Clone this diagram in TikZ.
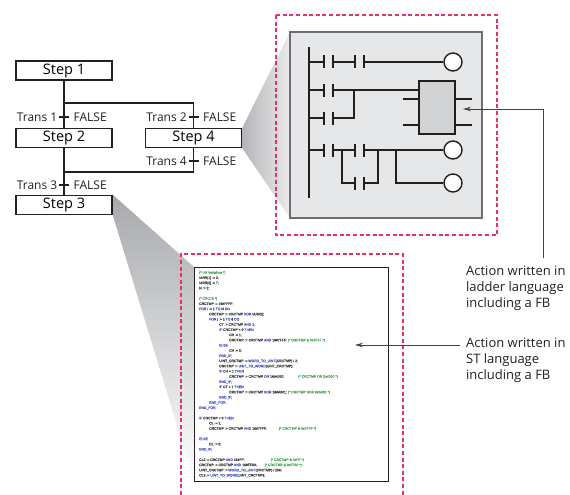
\documentclass[tikz,border=0pt]{standalone}
\usepackage{fontspec}
\setmainfont{Open Sans}
\newfontfamily\codefont[FakeBold=0.8]{Liberation Sans}
\usetikzlibrary{arrows.meta}
\definecolor{ink}{HTML}{231F20}
\definecolor{dashred}{HTML}{E6335C}
\definecolor{panelfill}{HTML}{E6E7E8}
\definecolor{panelborder}{HTML}{6D6E71}
\definecolor{fbfill}{HTML}{D1D3D4}
\definecolor{kwblue}{HTML}{4A5BC8}
\definecolor{cmgreen}{HTML}{4BA857}
\definecolor{wedgedark}{HTML}{A7A9AC}
\definecolor{wedgemid}{HTML}{B3B5B8}
\definecolor{wedgelight}{HTML}{EBEBEC}
\newcommand\kw[1]{\textcolor{kwblue}{#1}}
\newcommand\cm[1]{\textcolor{cmgreen}{#1}}
\newcommand\I[1]{\hspace*{\dimexpr #1\dimexpr 10pt\relax\relax}}
\tikzset{
  contact/.pic={\draw[line width=2pt,ink] (0,-6.5) -- (0,6.5) (9,-6.5) -- (9,6.5);}
}
\begin{document}
\begin{tikzpicture}[x=1pt,y=-1pt,
  stepbox/.style={draw=ink,line width=1.6pt,fill=white,minimum width=96pt,minimum height=19pt,inner sep=0pt,font=\fontsize{14.5}{16}\selectfont},
  sfc/.style={draw=ink,line width=1.2pt},
  tlabel/.style={font=\fontsize{12}{14}\selectfont,inner sep=0pt,text=ink},
  dashbox/.style={draw=dashred,line width=1.2pt,dash pattern=on 4pt off 2.6pt},
  wire/.style={draw=ink,line width=1.4pt},
  coil/.style={circle,draw=ink,fill=white,line width=1.4pt,minimum size=18pt,inner sep=0pt},
  fbbox/.style={draw=ink,fill=fbfill,line width=1.8pt,minimum width=36pt,minimum height=53pt,inner sep=0pt},
  pointer/.style={draw=ink!85,line width=0.8pt,-{Stealth[length=8pt,width=4.5pt]}},
  annot/.style={font=\fontsize{13}{16}\selectfont,align=left,inner sep=0pt,text=ink,anchor=north west}
]
\useasboundingbox (0,0) rectangle (570,495);

% ---------- SFC steps ----------
\node[stepbox] (s1) at (64,70.5) {Step 1};
\node[stepbox] (s2) at (64,138) {Step 2};
\node[stepbox] (s4) at (193.5,138) {Step 4};
\node[stepbox] (s3) at (64,205) {Step 3};

% ---------- zoom wedges ----------
\path[left color=wedgemid,right color=wedgelight] (s4.north east) -- (290,32) -- (290,218) -- (s4.south east) -- cycle;
\path[top color=wedgedark,bottom color=white] (s3.north east) -- (194,267) -- (194,481) -- (s3.south east) -- cycle;

% redraw steps over wedges
\node[stepbox] at (s4) {Step 4};
\node[stepbox] at (s3) {Step 3};

% ---------- SFC connections ----------
\coordinate (b1) at (64,103);
\coordinate (b2) at (64,172);
\coordinate (t1) at (64,117);
\coordinate (t2) at (193.5,117);
\coordinate (t4) at (193.5,161);
\coordinate (t3) at (64,185);
\draw[sfc] (s1.south) -- (s2.north);
\draw[sfc] (b1) -| (s4.north);
\draw[sfc] (s2.south) -- (s3.north);
\draw[sfc] (s4.south) |- (b2);
\foreach \t in {t1,t2,t3,t4}{\draw[sfc] (\t) ++(-5,0) -- ++(10,0);}
\node[tlabel,anchor=east] (lt1) at ([xshift=-6.5pt]t1) {Trans 1};
\node[tlabel,anchor=west] (ft1) at ([xshift=9.5pt]t1) {FALSE};
\node[tlabel,anchor=east] (lt2) at ([xshift=-6.5pt]t2) {Trans 2};
\node[tlabel,anchor=west] (ft2) at ([xshift=9.5pt]t2) {FALSE};
\node[tlabel,anchor=east] (lt4) at ([xshift=-6.5pt]t4) {Trans 4};
\node[tlabel,anchor=west] (ft4) at ([xshift=9.5pt]t4) {FALSE};
\node[tlabel,anchor=east] (lt3) at ([xshift=-6.5pt]t3) {Trans 3};
\node[tlabel,anchor=west] (ft3) at ([xshift=9.5pt]t3) {FALSE};

% ---------- ladder panel ----------
\draw[dashbox] (276,15) rectangle (497,235);
\draw[draw=panelborder,fill=panelfill,line width=1.2pt] (290,32) rectangle (482,218);
\draw[wire] (309,47) -- (309,198);
\node[coil] (c1) at (453,62) {};
\node[coil] (c3) at (453,150) {};
\node[coil] (c4) at (453,183) {};
\node[fbbox] (fb) at (437,107.5) {};
\foreach \p in {(324,62),(355,62),(324,90),(324,118),(324,150),(355,150),(355,183)}{\pic at \p {contact};}
\draw[wire] (309,62) -- (324,62) (333,62) -- (355,62) (364,62) -- (c1.west);
\draw[wire] (309,90) -- (324,90) (333,90) -- (fb.west |- 0,90);
\draw[wire] (309,118) -- (324,118) (333,118) -- (354,118) -- (354,90);
\draw[wire] (403,99) -- (fb.west |- 0,99) (403,125) -- (fb.west |- 0,125);
\draw[wire] (fb.east |- 0,99) -- (472,99) (fb.east |- 0,125) -- (472,125);
\draw[wire] (309,150) -- (324,150) (333,150) -- (355,150) (364,150) -- (c3.west);
\draw[wire] (342,150) -- (342,183) -- (355,183) (364,183) -- (378,183) -- (378,150);
\draw[wire] (396,150) -- (396,183) -- (c4.west);

% ---------- ST code ----------
\draw[dashbox] (181,495) -- (181,254) -- (403,254) -- (403,495);
\node[draw=ink,line width=1pt,fill=white,minimum width=194pt,minimum height=214pt,inner sep=0pt] (code) at (291,374) {};
\node[anchor=north west,inner sep=0pt,align=left,text=black!75,font=\codefont\fontsize{3.4}{5.2}\selectfont] (listing) at (199,271) {%
\cm{(* Init Variables *)}\\
IARR[1] := 2;\\
IARR[2] := 7;\\
N := 2;\\
\mbox{}\\
\cm{(* CRC16 *)}\\
CRCTMP := 16\#FFFF;\\
\kw{FOR} i := 1 \kw{TO} N \kw{DO}\\
\I{1}CRCTMP := CRCTMP \kw{XOR} IARR[i];\\
\I{1}\kw{FOR} j := 1 \kw{TO} 8 \kw{DO}\\
\I{2}CT := CRCTMP \kw{AND} 1;\\
\I{2}\kw{IF} CRCTMP < 0 \kw{THEN}\\
\I{3}CH := 1;\\
\I{3}CRCTMP := CRCTMP \kw{AND} 16\#7FFF; \cm{(* CRCTMP \& 0x7FFF *)}\\
\I{2}\kw{ELSE}\\
\I{3}CH := 0;\\
\I{2}\kw{END\_IF};\\
\I{2}UINT\_CRCTMP := \kw{WORD\_TO\_UINT}(CRCTMP) / 2;\\
\I{2}CRCTMP := \kw{UINT\_TO\_WORD}(UINT\_CRCTMP);\\
\I{2}\kw{IF} CH = 1 \kw{THEN}\\
\I{3}CRCTMP := CRCTMP \kw{OR} 16\#4000;\hspace{14pt}\cm{(* CRCTMP OR 0x4000 *)}\\
\I{2}\kw{END\_IF};\\
\I{2}\kw{IF} CT = 1 \kw{THEN}\\
\I{3}CRCTMP := CRCTMP \kw{XOR} 16\#A001; \cm{(* CRCTMP XOR 0xA001 *)}\\
\I{2}\kw{END\_IF};\\
\I{1}\kw{END\_FOR};\\
\kw{END\_FOR};\\
\mbox{}\\
\kw{IF} CRCTMP < 0 \kw{THEN}\\
\I{1}CL := 1;\\
\I{1}CRCTMP := CRCTMP \kw{AND} 16\#7FFF;\hspace{12pt}\cm{(* CRCTMP \& 0x7FFF *)}\\
\mbox{}\\
\kw{ELSE}\\
\I{1}CL := 0;\\
\kw{END\_IF};\\
\mbox{}\\
CL2 := CRCTMP \kw{AND} 16\#FF;\hspace{26pt}\cm{(* CRCTMP \& 0xFF *)}\\
CRCTMP := CRCTMP \kw{AND} 16\#FF00;\hspace{8pt}\cm{(* CRCTMP \& 0xFF00 *)}\\
UINT\_CRCTMP := \kw{WORD\_TO\_UINT}(CRCTMP) / 256;\\
CL3 := \kw{UINT\_TO\_WORD}(UINT\_CRCTMP);};

% ---------- annotations ----------
\node[annot] (ladlbl) at (466,266) {Action written in\\ladder language\\including a FB};
\node[annot] (stlbl) at (466,338) {Action written in\\ST language\\including a FB};
\coordinate (ladtail) at (543,258);
\coordinate (fbpoint) at (463,109);
\coordinate (sttail) at (460,345);
\coordinate (stpoint) at (355,345);
\draw[pointer] (ladtail) |- (fbpoint);
\draw[pointer] (sttail) -- (stpoint);
\end{tikzpicture}
\end{document}
